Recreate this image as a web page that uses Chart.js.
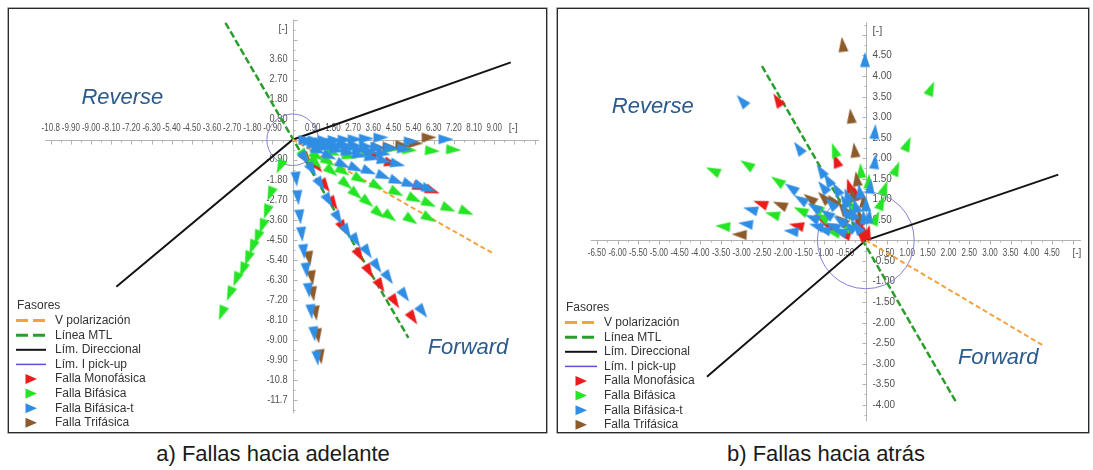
<!DOCTYPE html>
<html lang="es">
<head>
<meta charset="utf-8">
<title>Fasores – fallas hacia adelante / hacia atrás</title>
<script src="https://cdn.jsdelivr.net/npm/chart.js@4.4.1/dist/chart.umd.min.js"></script>
<style>
  html, body { margin: 0; padding: 0; background: #fff; }
  body { width: 1093px; height: 470px; position: relative; overflow: hidden;
         font-family: "Liberation Sans", Arial, sans-serif; }
  .panel { position: absolute; top: 8px; border: 1px solid #2a2a2a; box-shadow: 0 0 0 0.6px #777; }
  #panelA { left: 8px; width: 537px; height: 423px; }
  #panelB { left: 557px; width: 530px; height: 423px; }
  .panel canvas { display: block; }
  .caption { position: absolute; top: 441px; font-size: 22px; color: #1a1a1a;
             white-space: nowrap; transform: translateX(-50%); }
</style>
</head>
<body>
<div class="panel" id="panelA"><canvas id="chartA" width="537" height="423"></canvas></div>
<div class="panel" id="panelB"><canvas id="chartB" width="530" height="423"></canvas></div>
<div class="caption" style="left:273px">a) Fallas hacia adelante</div>
<div class="caption" style="left:826px">b) Fallas hacia atrás</div>

<script>
// ---------- a) forward faults: phasor tips [real, imag] ----------
const fwdMonofasica = [
  [0.65,-0.9],[1.1,-1.22],[1.47,-2.09],[1.83,-2.88],[2.26,-3.97],[2.99,-5.2],[3.42,-5.93],
  [3.93,-6.58],[4.58,-7.30],[5.38,-8.03],[3.71,-0.70],[4.43,-1.06],[5.7,-2.15],[6.25,-2.3]
];
const fwdBifasica = [
  [-0.57,-1.22],[-1.0,-2.45],[-1.17,-3.25],[-1.36,-3.9],[-1.58,-4.4],[-1.8,-4.84],[-2.01,-5.35],
  [-2.23,-5.86],[-2.52,-6.29],[-2.81,-6.94],[-3.17,-7.81],
  [1.8,-0.6],[2.55,-0.75],[3.4,-0.55],[4.43,-0.42],[5.23,-0.46],[6.25,-0.5],[7.19,-0.45],
  [1.1,-0.75],[1.61,-1.0],[2.26,-1.43],[3.0,-1.78],[3.78,-2.09],[4.65,-2.38],[5.45,-2.67],
  [6.1,-2.88],[6.97,-3.1],[7.77,-3.25],
  [0.55,-0.75],[1.05,-1.05],[1.75,-1.43],[2.40,-2.01],[2.84,-2.45],[3.35,-2.81],[3.86,-3.32],
  [4.36,-3.47],[5.3,-3.61],[6.1,-3.53]
];
const fwdBifasicaT = [
  [0.16,-1.78],[0.24,-2.61],[0.33,-3.48],[0.41,-4.26],[0.50,-5.04],[0.61,-5.87],[0.72,-6.78],
  [0.83,-7.74],[0.96,-8.74],[1.10,-9.83],
  [0.55,-0.85],[0.88,-1.36],[1.25,-2.01],[1.61,-2.74],[2.04,-3.53],[2.43,-4.13],[2.84,-4.55],
  [3.35,-5.06],[3.78,-5.71],[4.29,-6.22],[5.01,-7.01],[5.81,-7.74],
  [1.15,-0.5],[1.65,-0.75],[2.26,-1.13],[2.83,-1.30],[3.42,-1.43],[4.07,-1.65],[4.65,-1.87],
  [5.23,-2.01],[5.74,-2.09],[6.1,-2.23],
  [0.6,-0.03],[1.0,-0.04],[1.45,-0.03],[1.9,-0.02],[2.35,0.0],[2.8,0.02],[3.3,0.05],[3.95,0.1],
  [5.3,-0.08],[6.85,0.02],
  [0.8,-0.1],[1.3,-0.14],[1.8,-0.18],[2.3,-0.22],[2.8,-0.26],[3.3,-0.3],[3.8,-0.34],[4.4,-0.38],[5.0,-0.42],
  [1.0,-0.18],[1.5,-0.26],[2.0,-0.33],[2.5,-0.4],[3.0,-0.48],[3.5,-0.55],[4.05,-0.62],
  [1.0,-0.26],[1.5,-0.36],[2.0,-0.47],[2.5,-0.58],[3.0,-0.7],[3.55,-0.82],[4.1,-0.95],[4.7,-1.1]
];
const fwdTrifasica = [
  [3.85,-0.36],[4.35,-0.34],[4.92,-0.26],[5.5,-0.16],[6.1,0.1],
  [0.74,-5.35],[0.86,-6.22],[0.91,-6.94],[1.03,-7.81],[1.13,-8.83],[1.25,-9.77]
];
const fwdPolarizacion = [[0,0],[8.91,-5.09]];
const fwdLineaMTL = [[-3.0,5.26],[5.17,-8.91]];
const fwdLimDireccional = [[-7.87,-6.61],[0,0],[9.74,3.48]];
const fwdPickupRadius = 1.15;
const fwdXTicks = ['-10.8','-9.90','-9.00','-8.10','-7.20','-6.30','-5.40','-4.50','-3.60','-2.70','-1.80','-0.90',
                   '0.90','1.80','2.70','3.60','4.50','5.40','6.30','7.20','8.10','9.00'];
const fwdYTicks = ['3.60','2.70','1.80','0.90','-0.90','-1.80','-2.70','-3.60','-4.50','-5.40','-6.30',
                   '-7.20','-8.10','-9.00','-9.90','-10.8','-11.7'];

// ---------- b) reverse faults: phasor tips [real, imag] ----------
const revMonofasica = [
  [-2.14,3.42],[-0.72,1.95],[-0.4,1.33],[-2.55,0.9],[-1.68,0.36],[-0.9,0.35],[-0.2,0.5],
  [-0.1,0.3],[-0.55,0.15],[0.05,0.2],[-1.1,0.55],[-0.25,1.15],[-0.12,0.15]
];
const revBifasica = [
  [1.58,3.7],[1.01,2.35],[0.74,1.75],[-0.76,2.2],[-3.7,1.7],[-2.88,1.85],[-2.14,1.45],[-2.26,0.63],
  [-3.46,0.34],[-1.58,0.73],[-0.12,1.7],[0.07,1.44],[0.38,0.92],[0.46,1.28],[0.25,0.55],[-1.07,0.57],
  [-0.35,0.85],[-1.2,0.8],[-0.8,0.2],[-0.5,0.35]
];
const revBifasicaT = [
  [-0.02,4.4],[0.22,2.65],[0.22,1.92],[-3.0,3.4],[-1.63,2.25],
  [-1.81,1.28],[-1.58,1.0],[-1.26,0.81],[-0.95,0.65],[-0.64,0.49],[-0.4,0.34],
  [-1.09,1.7],[-0.92,1.48],[-0.71,1.25],[-0.52,0.96],[-0.33,0.66],[-0.21,0.33],
  [0.11,1.32],[0.0,0.89],[-0.05,0.57],
  [-2.79,0.75],[-2.91,0.4],[-1.81,0.22],[-1.03,0.26],[-0.64,0.22],
  [-1.04,1.3],[-1.3,0.55],[-0.85,0.9],[-0.45,1.1],[-0.25,0.85],[-0.15,1.2],[0.08,0.6],
  [-1.2,0.35],[-0.8,0.35],[-0.5,0.7]
];
const revTrifasica = [
  [-0.56,4.77],[-0.36,3.03],[-0.27,2.2],[-2.08,0.87],[-3.06,0.14],[-1.36,1.02],[-0.22,1.5],
  [-0.33,1.12],[-0.8,0.97],[-0.56,0.78],[-1.03,1.05],[-0.05,0.98],[-0.6,0.5],[-0.15,0.6]
];
const revPolarizacion = [[0,0],[4.27,-2.55]];
const revLineaMTL = [[-2.51,4.24],[2.2,-3.97]];
const revLimDireccional = [[-3.84,-3.32],[0,0],[4.65,1.6]];
const revPickupRadius = 1.17;
const revXTicks = ['-6.50','-6.00','-5.50','-5.00','-4.50','-4.00','-3.50','-3.00','-2.50','-2.00','-1.50','-1.00','-0.50',
                   '0.50','1.00','1.50','2.00','2.50','3.00','3.50','4.00','4.50'];
const revYTicks = ['4.50','4.00','3.50','3.00','2.50','2.00','1.50','1.00','0.50',
                   '-0.50','-1.00','-1.50','-2.00','-2.50','-3.00','-3.50','-4.00'];

// ---------- styling ----------
const COL = {
  polar: '#f4a23c', mtl: '#2a9e2a', dir: '#141414', pickup: '#8580d6',
  mono: '#ec1b1b', bif: '#25e425', bift: '#2f8ee4', tri: '#8c5a2b'
};
const legendEntries = [
  { label: 'V polarización',  kind: 'line', color: COL.polar,  dash: [12, 5], width: 3 },
  { label: 'Línea MTL',       kind: 'line', color: COL.mtl,    dash: [12, 5], width: 3 },
  { label: 'Lím. Direccional',kind: 'line', color: COL.dir,    dash: [],      width: 2 },
  { label: 'Lím. I pick-up',  kind: 'line', color: '#5a4fd8',  dash: [],      width: 1.5 },
  { label: 'Falla Monofásica',kind: 'head', color: COL.mono },
  { label: 'Falla Bifásica',  kind: 'head', color: COL.bif },
  { label: 'Falla Bifásica-t',kind: 'head', color: COL.bift },
  { label: 'Falla Trifásica', kind: 'head', color: COL.tri }
];

// arrow head sprite: narrow triangle pointing up, centred in the sprite
function headSprite(color) {
  const c = document.createElement('canvas');
  c.width = 20; c.height = 20;
  const g = c.getContext('2d');
  g.fillStyle = color;
  g.beginPath();
  g.moveTo(10, 2.5); g.lineTo(15, 17.5); g.lineTo(5, 17.5); g.closePath();
  g.fill();
  return c;
}
const toXY = arr => arr.map(([x, y]) => ({ x, y }));

// rotate each head along its phasor direction (pixel space)
function headRotation(ctx) {
  const p = ctx.raw;
  if (!p) return 0;
  const s = ctx.chart.scales;
  const dx = s.x.getPixelForValue(p.x) - s.x.getPixelForValue(0);
  const dy = s.y.getPixelForValue(p.y) - s.y.getPixelForValue(0);
  return Math.atan2(dx, -dy) * 180 / Math.PI;
}

function heads(label, arr, color, order) {
  return {
    label, data: toXY(arr), order,
    pointStyle: headSprite(color), pointRadius: 7, pointRotation: headRotation,
    pointBackgroundColor: color, pointBorderWidth: 0, showLine: false
  };
}
function line(label, arr, color, width, dash, order) {
  return {
    label, data: toXY(arr), order, showLine: true, borderColor: color, borderWidth: width,
    borderDash: dash, pointRadius: 0, fill: false
  };
}
function pickup(radius, order) {
  return {
    label: 'Lím. I pick-up', data: [{ x: 0, y: 0 }], order, showLine: false,
    pointStyle: 'circle',
    pointRadius: c => c.chart.scales.x.getPixelForValue(radius) - c.chart.scales.x.getPixelForValue(0),
    pointBackgroundColor: 'rgba(0,0,0,0)', pointBorderColor: COL.pickup, pointBorderWidth: 1
  };
}

function squeezedText(ctx, s, x, y, align, sx) {
  ctx.save();
  ctx.translate(x, y);
  ctx.scale(sx, 1);
  ctx.textAlign = align;
  ctx.textBaseline = 'middle';
  ctx.fillText(s, 0, 0);
  ctx.restore();
}

// axes crossing at the origin, drawn from the chart's own linear scales
const crossAxes = {
  id: 'crossAxes',
  beforeDatasetsDraw(chart, args, o) {
    const { ctx } = chart;
    const sx = chart.scales.x, sy = chart.scales.y;
    const x0 = Math.round(sx.getPixelForValue(0)) + 0.5;
    const y0 = Math.round(sy.getPixelForValue(0)) + 0.5;
    ctx.save();
    ctx.strokeStyle = '#b2b2b2';
    ctx.lineWidth = 1;
    ctx.beginPath();
    ctx.moveTo(sx.getPixelForValue(o.xSpan[0]), y0);
    ctx.lineTo(sx.getPixelForValue(o.xSpan[1]), y0);
    ctx.moveTo(x0, sy.getPixelForValue(o.ySpan[1]));
    ctx.lineTo(x0, sy.getPixelForValue(o.ySpan[0]));
    for (let k = Math.ceil(o.xSpan[0] / o.step); k * o.step <= o.xSpan[1]; k++) {
      if (k === 0) continue;
      const px = Math.round(sx.getPixelForValue(k * o.step)) + 0.5;
      ctx.moveTo(px, y0); ctx.lineTo(px, y0 + (k % 2 === 0 ? 4 : 2));
    }
    for (let k = Math.ceil(o.ySpan[0] / o.step); k * o.step <= o.ySpan[1]; k++) {
      if (k === 0) continue;
      const py = Math.round(sy.getPixelForValue(k * o.step)) + 0.5;
      ctx.moveTo(x0, py); ctx.lineTo(x0 + o.yTickDir * (k % 2 === 0 ? 4 : 2), py);
    }
    ctx.stroke();

    ctx.fillStyle = '#505050';
    ctx.font = '10px "Liberation Sans", Arial, sans-serif';
    o.xLabels.forEach(t => {
      squeezedText(ctx, t, sx.getPixelForValue(parseFloat(t)), y0 + o.xLabelDy, 'center', o.xSqueeze);
    });
    squeezedText(ctx, '[-]', sx.getPixelForValue(o.xUnit), y0 + o.xLabelDy, 'center', 1);
    const yAlign = o.yLabelDx < 0 ? 'right' : 'left';
    ctx.font = o.yFont;
    o.yLabels.forEach(t => {
      squeezedText(ctx, t, x0 + o.yLabelDx, sy.getPixelForValue(parseFloat(t)), yAlign, o.ySqueeze);
    });
    squeezedText(ctx, '[-]', x0 + o.yLabelDx, sy.getPixelForValue(o.yUnit), yAlign, 1);
    ctx.restore();
  },
  afterDatasetsDraw(chart, args, o) {
    const { ctx } = chart;
    const sx = chart.scales.x, sy = chart.scales.y;
    ctx.save();
    // region labels
    ctx.fillStyle = '#2b5a8b';
    ctx.font = 'italic 22px "Liberation Sans", Arial, sans-serif';
    ctx.textAlign = 'center';
    ctx.textBaseline = 'middle';
    o.regions.forEach(r => ctx.fillText(r.text, sx.getPixelForValue(r.x), sy.getPixelForValue(r.y)));

    // legend
    const L = o.legend;
    ctx.font = '12px "Liberation Sans", Arial, sans-serif';
    ctx.textAlign = 'left';
    ctx.fillStyle = '#333';
    ctx.fillText('Fasores', L.x, L.top);
    legendEntries.forEach((e, i) => {
      const y = L.top + (i + 1) * L.row;
      if (e.kind === 'line') {
        ctx.strokeStyle = e.color;
        ctx.lineWidth = e.width;
        ctx.setLineDash(e.dash);
        ctx.beginPath();
        ctx.moveTo(L.sym0, y); ctx.lineTo(L.sym1, y);
        ctx.stroke();
        ctx.setLineDash([]);
      } else {
        const cx = (L.sym0 + L.sym1) / 2;
        ctx.fillStyle = e.color;
        ctx.beginPath();
        ctx.moveTo(cx + 6, y); ctx.lineTo(cx - 5.5, y - 5); ctx.lineTo(cx - 5.5, y + 5);
        ctx.closePath(); ctx.fill();
      }
      ctx.fillStyle = '#333';
      ctx.fillText(e.label, L.text, y);
    });
    ctx.restore();
  }
};

function makeChart(id, series, scales, axesOpts) {
  return new Chart(document.getElementById(id), {
    type: 'scatter',
    data: { datasets: series },
    options: {
      responsive: false, animation: false, events: [],
      layout: { padding: 0 },
      scales: {
        x: { type: 'linear', display: false, min: scales.x[0], max: scales.x[1] },
        y: { type: 'linear', display: false, min: scales.y[0], max: scales.y[1] }
      },
      plugins: { legend: { display: false }, tooltip: { enabled: false }, crossAxes: axesOpts }
    },
    plugins: [crossAxes]
  });
}

makeChart('chartA', [
  heads('Falla Bifásica-t', fwdBifasicaT, COL.bift, 1),
  heads('Falla Trifásica', fwdTrifasica, COL.tri, 2),
  heads('Falla Bifásica', fwdBifasica, COL.bif, 3),
  heads('Falla Monofásica', fwdMonofasica, COL.mono, 4),
  line('V polarización', fwdPolarizacion, COL.polar, 2, [5, 3], 5),
  line('Línea MTL', fwdLineaMTL, COL.mtl, 2.5, [7, 3], 6),
  line('Lím. Direccional', fwdLimDireccional, COL.dir, 2, [], 7),
  pickup(fwdPickupRadius, 8)
], { x: [-12.35, 11.0], y: [-12.83, 5.565] }, {
  xSpan: [-11.05, 11.0], ySpan: [-12.3, 5.4], step: 0.45,
  xLabels: fwdXTicks, yLabels: fwdYTicks, xUnit: 9.85, yUnit: 4.95,
  xLabelDy: -12, yLabelDx: -6, yTickDir: 1, xSqueeze: 0.8, ySqueeze: 0.92,
  yFont: '10px "Liberation Sans", Arial, sans-serif',
  regions: [{ text: 'Reverse', x: -7.6, y: 1.9 }, { text: 'Forward', x: 7.83, y: -9.35 }],
  legend: { x: 8, top: 297, row: 14.6, sym0: 7, sym1: 37, text: 46 }
});

makeChart('chartB', [
  heads('Falla Bifásica-t', revBifasicaT, COL.bift, 1),
  heads('Falla Trifásica', revTrifasica, COL.tri, 2),
  heads('Falla Bifásica', revBifasica, COL.bif, 3),
  heads('Falla Monofásica', revMonofasica, COL.mono, 4),
  line('V polarización', revPolarizacion, COL.polar, 2, [5, 3], 5),
  line('Línea MTL', revLineaMTL, COL.mtl, 2.5, [7, 3], 6),
  line('Lím. Direccional', revLimDireccional, COL.dir, 2, [], 7),
  pickup(revPickupRadius, 8)
], { x: [-7.27, 5.2], y: [-4.494, 5.459] }, {
  xSpan: [-6.65, 5.2], ySpan: [-4.4, 5.3], step: 0.25,
  xLabels: revXTicks, yLabels: revYTicks, xUnit: 5.1, yUnit: 5.1,
  xLabelDy: 13, yLabelDx: 6, yTickDir: -1, xSqueeze: 0.8, ySqueeze: 0.9,
  yFont: '11px "Liberation Sans", Arial, sans-serif',
  regions: [{ text: 'Reverse', x: -5.15, y: 3.25 }, { text: 'Forward', x: 3.2, y: -2.87 }],
  legend: { x: 8, top: 299, row: 14.6, sym0: 7, sym1: 39, text: 46 }
});
</script>
</body>
</html>
